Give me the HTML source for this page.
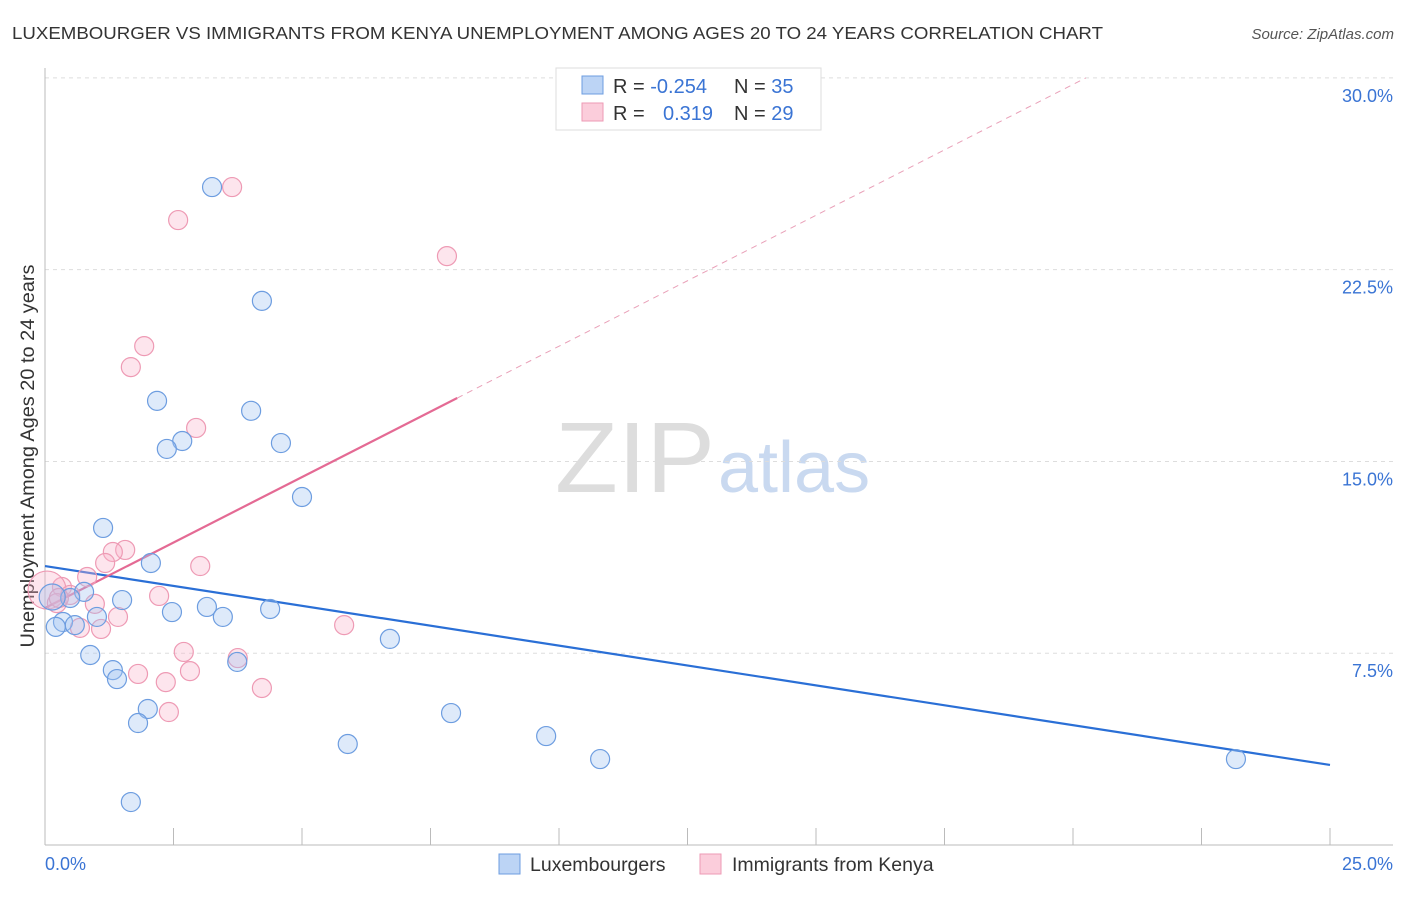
<!DOCTYPE html>
<html><head><meta charset="utf-8"><style>
body{margin:0;background:#fff;font-family:"Liberation Sans",sans-serif;}
svg text{font-family:"Liberation Sans",sans-serif;}
</style></head><body>
<svg id="c" width="1406" height="892">
<text x="12" y="39" font-size="17.5" fill="#333" textLength="1091" lengthAdjust="spacingAndGlyphs">LUXEMBOURGER VS IMMIGRANTS FROM KENYA UNEMPLOYMENT AMONG AGES 20 TO 24 YEARS CORRELATION CHART</text>
<text x="1394" y="39" font-size="15" fill="#555" font-style="italic" text-anchor="end">Source: ZipAtlas.com</text>
<text x="555" y="492" font-size="100" fill="#ddd" textLength="160" lengthAdjust="spacingAndGlyphs" font-family="Liberation Serif">ZIP</text>
<text x="718" y="492" font-size="72" fill="#c9d9f0">atlas</text>
<text transform="translate(34,456) rotate(-90)" font-size="19" fill="#333" text-anchor="middle" textLength="383" lengthAdjust="spacingAndGlyphs">Unemployment Among Ages 20 to 24 years</text>
<g id="grid"></g><g id="trend"></g><g id="pts"></g>
<g>
<rect x="556" y="68" width="265" height="62" fill="#fff" stroke="#ddd"/>
<rect x="582" y="76" width="21" height="18" fill="#bcd4f5" stroke="#6d9de0"/>
<rect x="582" y="103" width="21" height="18" fill="#fbcddb" stroke="#ee9ab4"/>
<text x="613" y="93" font-size="20" fill="#333">R = <tspan fill="#3a74d4">-0.254</tspan><tspan x="734">N = </tspan><tspan fill="#3a74d4">35</tspan></text>
<text x="613" y="120" font-size="20" fill="#333">R = <tspan x="663" fill="#3a74d4">0.319</tspan><tspan x="734">N = </tspan><tspan fill="#3a74d4">29</tspan></text>
</g>
<rect x="499" y="854" width="21" height="20" fill="#bcd4f5" stroke="#6d9de0"/>
<text x="530" y="871" font-size="19.5" fill="#333">Luxembourgers</text>
<rect x="700" y="854" width="21" height="20" fill="#fbcddb" stroke="#ee9ab4"/>
<text x="732" y="871" font-size="19.5" fill="#333">Immigrants from Kenya</text>
</svg>
<script>
const xTicks=[0,2.5,5,7.5,10,12.5,15,17.5,20,22.5,25];
const yTicks=[7.5,15,22.5,30];
const yTickLabels=["7.5%","15.0%","22.5%","30.0%"];
const xLabels=["0.0%","25.0%"];
const luxX=[3.25,4.22,2.18,4.01,2.67,2.37,4.59,5.00,1.13,2.06,0.76,0.49,1.50,0.14,2.47,3.15,3.46,4.38,1.01,0.35,0.58,0.21,6.71,0.88,3.74,1.32,1.40,2.00,1.81,7.90,5.89,9.75,10.80,1.67,23.17];
const luxY=[25.73,21.28,17.37,16.98,15.80,15.49,15.72,13.61,12.40,11.03,9.90,9.66,9.58,9.70,9.11,9.31,8.92,9.23,8.92,8.72,8.60,8.53,8.06,7.43,7.16,6.84,6.49,5.32,4.77,5.16,3.95,4.26,3.36,1.68,3.36];
const kenX=[3.64,2.59,7.82,1.93,1.67,2.94,1.56,1.32,3.02,1.17,0.82,0.33,0.04,0.23,0.49,0.97,2.22,1.42,0.68,1.09,5.82,2.70,3.75,2.82,1.81,2.35,4.22,2.41,0.27];
const kenY=[25.73,24.44,23.03,19.51,18.69,16.31,11.54,11.46,10.91,11.03,10.48,10.09,9.97,9.46,9.78,9.43,9.74,8.92,8.49,8.45,8.60,7.55,7.31,6.80,6.69,6.37,6.14,5.20,9.66];
const luxTrend=[10.91,-0.3112];
const kenTrend=[9.27,1.0237];
const X=v=>45+v*51.4, Y=v=>845-v*25.57;
const NS="http://www.w3.org/2000/svg";
function mk(t,a,p){const e=document.createElementNS(NS,t);for(const k in a)e.setAttribute(k,a[k]);p.appendChild(e);return e;}
const g=document.getElementById('grid');
yTicks.forEach((t,i)=>{
 const l=mk('line',{x1:45,x2:1393,y1:Y(t),y2:Y(t),stroke:'#ddd','stroke-dasharray':'4,4'},g);
 
 
 const tx=mk('text',{x:1393,y:Y(t)+24,'font-size':18,fill:'#3a74d4','text-anchor':'end'},g);
 tx.textContent=yTickLabels[i];
 
 
});
const ax=mk('line',{x1:45,x2:45,y1:68,y2:845,stroke:'#bbb'},g);


const bx=mk('line',{x1:45,x2:1393,y1:845,y2:845,stroke:'#bbb'},g);


xTicks.forEach(t=>{
 const l=mk('line',{x1:X(t),x2:X(t),y1:828,y2:845,stroke:'#bbb'},g);
 
 
});
[[0,'start',45],[25,'end',1393]].forEach((d,i)=>{
 const tx=mk('text',{x:d[2],y:870,'font-size':18,fill:'#3a74d4','text-anchor':d[1]},g);
 tx.textContent=xLabels[i];
 
 
});
const tr=document.getElementById('trend');
const lb=mk('line',{x1:X(0),y1:Y(luxTrend[0]),x2:X(25),y2:Y(luxTrend[0]+25*luxTrend[1]),stroke:'#2a6fd6','stroke-width':2.2},tr);


const ks=mk('line',{x1:X(0),y1:Y(kenTrend[0]),x2:X(8.02),y2:Y(kenTrend[0]+8.02*kenTrend[1]),stroke:'#e46a94','stroke-width':2.2},tr);


const xe=(30-kenTrend[0])/kenTrend[1];
const kd=mk('line',{x1:X(8.02),y1:Y(kenTrend[0]+8.02*kenTrend[1]),x2:X(xe),y2:Y(30),stroke:'#e9a0b8','stroke-width':1,'stroke-dasharray':'6,5'},tr);


const p=document.getElementById('pts');
kenX.forEach((x,i)=>{
 const c=mk('circle',{cx:X(x),cy:Y(kenY[i]),r:(i==12?19:9.5),fill:'rgba(248,180,202,0.35)',stroke:'#ee9ab4','stroke-width':1.2},p);
 
 
});
luxX.forEach((x,i)=>{
 const c=mk('circle',{cx:X(x),cy:Y(luxY[i]),r:(i==13?13:9.5),fill:'rgba(160,195,240,0.35)',stroke:'#6d9de0','stroke-width':1.2},p);
 
 
});
</script>
</body></html>
